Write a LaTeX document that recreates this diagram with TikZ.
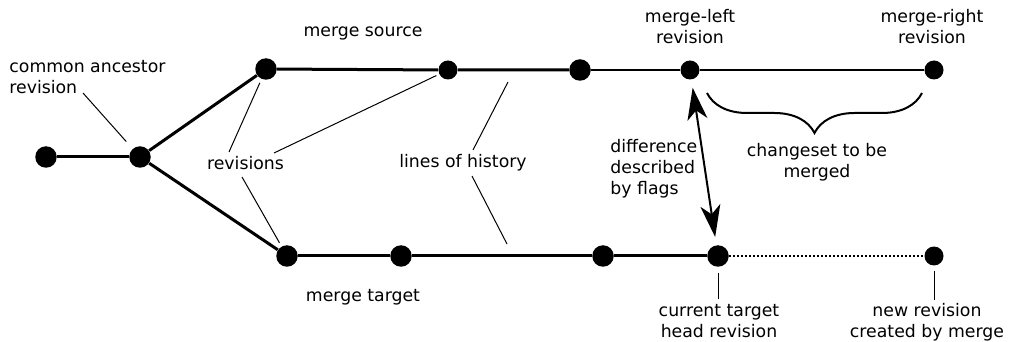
\documentclass[tikz,border=0pt]{standalone}
\usepackage{fontspec}
\setmainfont{DejaVu Sans}
\usetikzlibrary{arrows.meta,decorations.pathreplacing}

\begin{document}
\begin{tikzpicture}[x=0.5pt,y=-0.5pt,
  rev/.style={circle,fill=black,inner sep=0pt,minimum size=10.75pt},
  revsmall/.style={rev,minimum size=9.5pt},
  lbl/.style={inner sep=0pt,align=center,font=\fontsize{8.65}{10.5}\selectfont},
  hist/.style={line width=1.5pt},
  histthin/.style={line width=1pt},
  pointer/.style={line width=0.5pt},
  flow/.style={{Stealth[length=16pt,width=10pt,inset=4.5pt]}-{Stealth[length=16pt,width=10pt,inset=4.5pt]},
    line width=1pt,shorten <=4pt,shorten >=4pt}]
\useasboundingbox (0,0) rectangle (1014,342);
% revisions
\node[rev] (n0) at (46,157) {};
\node[rev] (anc) at (140,157) {};
\node[rev] (s1) at (266,69) {};
\node[revsmall] (s2) at (448,70) {};
\node[rev] (s3) at (580,70) {};
\node[revsmall] (left) at (690,70) {};
\node[revsmall] (right) at (934,70) {};
\node[rev] (t1) at (287,256) {};
\node[rev] (t2) at (401,256) {};
\node[rev] (t3) at (603,256) {};
\node[rev] (head) at (718,256) {};
\node[revsmall] (new) at (934,256) {};
% lines of history
\draw[hist] (n0) -- (anc);
\draw[hist] (anc) -- (s1);
\draw[hist] (anc) -- (t1);
\draw[hist] (s1) -- (s2) -- (s3);
\draw[histthin] (s3) -- (left) -- (right);
\draw[hist] (t1) -- (t2) -- (t3) -- (head);
\draw[histthin,dash pattern=on 1pt off 1pt] (head) -- (new);
% labels
\node[lbl,align=left,anchor=west] (anclbl) at (9,77) {common ancestor\\revision};
\node[lbl,anchor=base] (srclbl) at (363,37) {merge source};
\node[lbl] (leftlbl) at (690,26.7) {merge-left\\revision};
\node[lbl] (rightlbl) at (932,26.7) {merge-right\\revision};
\node[lbl,anchor=base] (revlbl) at (245.5,169.5) {revisions};
\node[lbl,anchor=base] (histlbl) at (463,168) {lines of history};
\node[lbl,align=left,anchor=west] (difflbl) at (610,168.5) {difference\\described\\by flags};
\node[lbl] (setlbl) at (817,162) {changeset to be\\merged};
\node[lbl,anchor=base] (tgtlbl) at (363,302) {merge target};
\node[lbl] (headlbl) at (719,321) {current target\\head revision};
\node[lbl] (newlbl) at (927,322.5) {new revision\\created by merge};
% pointers
\coordinate (p-anc) at (83,93);
\coordinate (p-rev1) at (229,152);
\coordinate (p-rev2) at (274,153);
\coordinate (p-rev3) at (242,177);
\coordinate (p-his1a) at (473,150);
\coordinate (p-his1b) at (508,82);
\coordinate (p-his2a) at (472,176);
\coordinate (p-his2b) at (507,244);
\coordinate (p-head) at (718,299);
\coordinate (p-new) at (934,300);
\draw[pointer,shorten >=4.75pt] (p-anc) -- (anc);
\draw[pointer,shorten >=2pt] (p-rev1) -- (s1);
\draw[pointer,shorten >=1.5pt] (p-rev2) -- (s2);
\draw[pointer,shorten >=2pt] (p-rev3) -- (t1);
\draw[pointer] (p-his1a) -- (p-his1b);
\draw[pointer] (p-his2a) -- (p-his2b);
\draw[pointer,shorten >=3pt] (p-head) -- (head);
\draw[pointer,shorten >=2.5pt] (p-new) -- (new);
% difference arrow and changeset brace
\draw[flow] (left) -- (head);
\coordinate (br-r) at (922,93);
\coordinate (br-l) at (707,93);
\draw[line width=1pt,decorate,decoration={brace,amplitude=20pt}] (br-r) -- (br-l);
\end{tikzpicture}
\end{document}
